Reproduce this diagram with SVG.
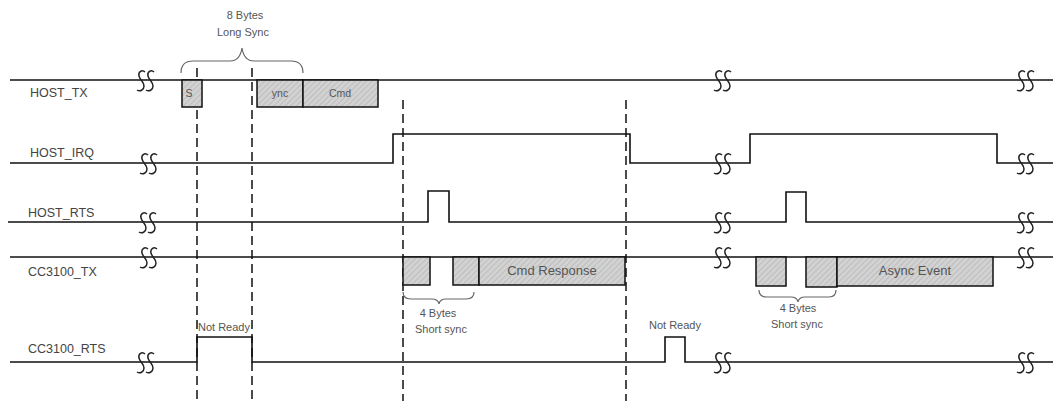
<svg xmlns="http://www.w3.org/2000/svg" width="1053" height="401" viewBox="0 0 1053 401">
<style>
.sig{fill:none;stroke:#111;stroke-width:1.6}
.box{fill:url(#hatch);stroke:#111;stroke-width:1.5}
.dash{fill:none;stroke:#111;stroke-width:1.5;stroke-dasharray:9,5}
.brk{fill:none;stroke:#222;stroke-width:1.5}
.brace{fill:none;stroke:#666;stroke-width:1.2}
.lbl{font-family:"Liberation Sans",Arial,sans-serif;font-size:12.5px;fill:#444}
.note{font-family:"Liberation Sans",Arial,sans-serif;font-size:11px;fill:#555;text-anchor:middle}
.btxt{font-family:"Liberation Sans",Arial,sans-serif;font-size:13px;fill:#555;text-anchor:middle}
.stxt{font-family:"Liberation Sans",Arial,sans-serif;font-size:10.5px;fill:#555;text-anchor:middle}
</style>
<defs>
<pattern id="hatch" patternUnits="userSpaceOnUse" width="4" height="4" patternTransform="rotate(45)">
<rect width="4" height="4" fill="#d2d2d2"/>
<line x1="0" y1="0" x2="0" y2="4" stroke="#b0b0b0" stroke-width="1.2"/>
</pattern>
<g id="brk">
<path class="brk" d="M9,-8 C6,-11 2,-8 3,-4 C4,0 8,2 8,6 C8,10 4,12 1,10"/>
<path class="brk" d="M18,-8 C15,-11 11,-8 12,-4 C13,0 17,2 17,6 C17,10 13,12 10,10"/>
</g>
</defs>

<g id="connectors">
<path class="dash" d="M197,68 V401"/>
<path class="dash" d="M252,68 V401"/>
<path class="dash" d="M403,100 V401"/>
<path class="dash" d="M626,100 V401"/>
</g>

<g id="host_tx">
<text class="lbl" x="30" y="97">HOST_TX</text>
<path class="sig" d="M10,80 H1053"/>
<rect class="box" x="182" y="80" width="20" height="27"/>
<text class="stxt" x="189" y="97">S</text>
<rect class="box" x="257" y="80" width="46" height="27"/>
<text class="stxt" x="280" y="97">ync</text>
<rect class="box" x="303" y="80" width="75" height="27"/>
<text class="stxt" x="340" y="97">Cmd</text>
<path class="brace" d="M181,73 Q181,61 193,61 L230,61 Q240,61 242,48 Q244,61 254,61 L291,61 Q303,61 303,73"/>
<text class="note" x="245" y="19">8 Bytes</text>
<text class="note" x="243" y="36">Long Sync</text>
<use href="#brk" x="136" y="80"/>
<use href="#brk" x="713" y="80"/>
<use href="#brk" x="1016" y="80"/>
</g>

<g id="host_irq">
<text class="lbl" x="30" y="157">HOST_IRQ</text>
<path class="sig" d="M10,163 H393 V134 H630 V163 H750 V134 H997 V163 H1053"/>
<use href="#brk" x="139" y="163"/>
<use href="#brk" x="713" y="163"/>
<use href="#brk" x="1016" y="163"/>
</g>

<g id="host_rts">
<text class="lbl" x="28" y="217">HOST_RTS</text>
<path class="sig" d="M8,222 H428 V191 H449 V222 H786 V192 H806 V222 H1053"/>
<use href="#brk" x="138" y="222"/>
<use href="#brk" x="713" y="222"/>
<use href="#brk" x="1016" y="222"/>
</g>

<g id="cc3100_tx">
<text class="lbl" x="28" y="276">CC3100_TX</text>
<path class="sig" d="M10,257 H1053"/>
<rect class="box" x="403" y="257" width="27" height="28"/>
<rect class="box" x="453" y="257" width="26" height="28"/>
<rect class="box" x="479" y="257" width="146" height="28"/>
<text class="btxt" x="552" y="275">Cmd Response</text>
<path class="brace" d="M403,292 Q403,299 411,299 L432,299 Q438,299 439,304 Q440,299 446,299 L466,299 Q474,299 474,292"/>
<text class="note" x="438" y="317">4 Bytes</text>
<text class="note" x="441" y="333">Short sync</text>
<rect class="box" x="756" y="257" width="30" height="29"/>
<rect class="box" x="806" y="257" width="31" height="30"/>
<rect class="box" x="837" y="257" width="156" height="29"/>
<text class="btxt" x="915" y="275">Async Event</text>
<path class="brace" d="M759,290 Q759,297 767,297 L791,297 Q797,297 798,302 Q799,297 805,297 L829,297 Q836,297 836,290"/>
<text class="note" x="798" y="312">4 Bytes</text>
<text class="note" x="797" y="328">Short sync</text>
<use href="#brk" x="139" y="257"/>
<use href="#brk" x="713" y="257"/>
<use href="#brk" x="1016" y="257"/>
</g>

<g id="cc3100_rts">
<text class="lbl" x="28" y="353">CC3100_RTS</text>
<path class="sig" d="M10,362 H197 V337 H252 V362 H665 V337 H685 V362 H1053"/>
<text class="note" x="224" y="331">Not Ready</text>
<text class="note" x="675" y="329">Not Ready</text>
<use href="#brk" x="136" y="362"/>
<use href="#brk" x="713" y="362"/>
<use href="#brk" x="1016" y="362"/>
</g>
</svg>
